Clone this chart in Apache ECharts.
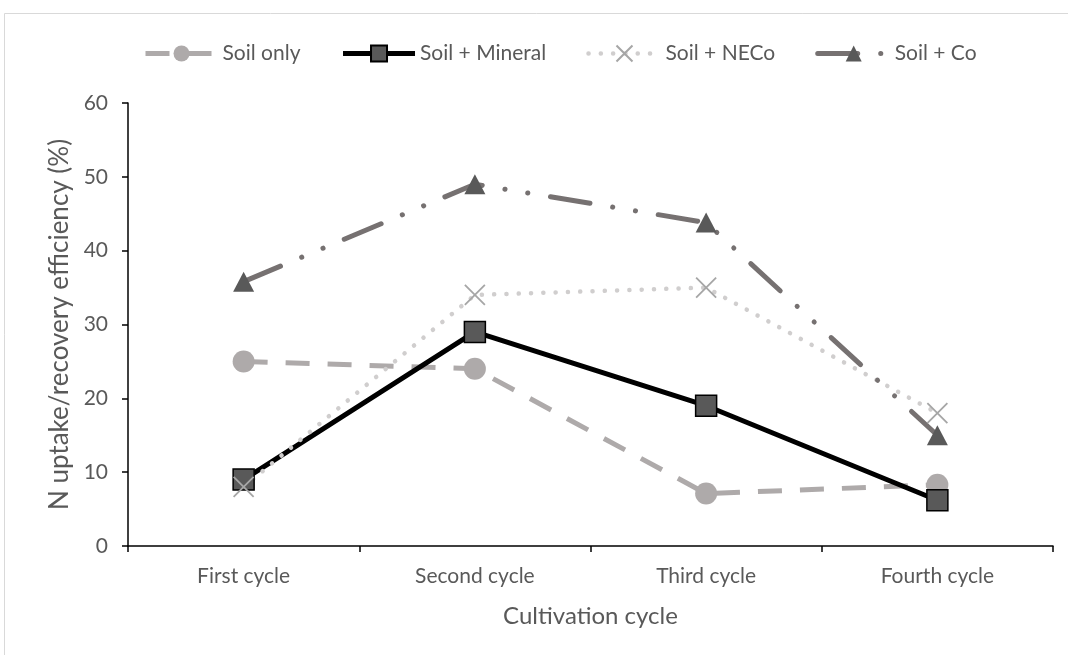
<!DOCTYPE html>
<html>
<head>
<meta charset="utf-8">
<script src="https://cdn.jsdelivr.net/npm/echarts@6/dist/echarts.min.js"></script>
<style>
html,body{margin:0;padding:0;background:#fff;}
#chart{width:1068px;height:655px;}
</style>
</head>
<body>
<div id="chart"></div>
<script>
const categories = ['First cycle', 'Second cycle', 'Third cycle', 'Fourth cycle'];
const soilOnly = [25, 24, 7.1, 8.3];
const soilMineral = [9, 29, 19, 6.2];
const soilNECo = [8, 34, 35, 18];
const soilCo = [35.8, 49, 43.8, 15];
const yTicks = [0, 10, 20, 30, 40, 50, 60];
const seriesNames = ['Soil only', 'Soil + Mineral', 'Soil + NECo', 'Soil + Co'];

const FONT = 'Lato';
const TXT = '#595959';
const crossPath = 'path://M0,0L10,10M10,0L0,10';

const styles = [
  {line: {color: '#AEAAAA', width: 5, type: [24, 18], cap: 'butt'}},
  {line: {color: '#000', width: 5}},
  {line: {color: '#D0CECE', width: 4.5, type: [0.1, 12.2], cap: 'round'}},
  {line: {color: '#767171', width: 5, type: [40, 23, 0.1, 23, 0.1, 23], cap: 'round'}}
];

const chart = echarts.init(document.getElementById('chart'), null, {renderer: 'canvas'});
chart.setOption({
  animation: false,
  backgroundColor: '#fff',
  textStyle: {fontFamily: FONT, color: TXT},
  graphic: [{
    type: 'rect', silent: true, z: -1,
    shape: {x: 4.5, y: 13.5, width: 1100, height: 700},
    style: {fill: 'none', stroke: '#D9D9D9', lineWidth: 1}
  }],
  legend: {
    top: 38, left: 138,
    itemWidth: 72, itemHeight: 20, itemGap: 40,
    textStyle: {fontFamily: FONT, fontSize: 21, color: TXT},
    data: seriesNames.map((n, i) => ({name: n, lineStyle: {width: styles[i].line.width}}))
  },
  grid: {left: 128, right: 15, top: 103, bottom: 109, containLabel: false},
  xAxis: {
    type: 'category', data: categories, boundaryGap: true,
    name: 'Cultivation cycle', nameLocation: 'middle', nameGap: 58,
    nameTextStyle: {fontFamily: FONT, fontSize: 24, color: TXT},
    axisLine: {lineStyle: {color: '#000', width: 1.5}},
    axisTick: {show: true, length: 6, lineStyle: {color: '#000', width: 1.5}},
    axisLabel: {fontFamily: FONT, fontSize: 21, color: TXT, margin: 20},
    splitLine: {show: false}
  },
  yAxis: {
    type: 'value', min: yTicks[0], max: yTicks[yTicks.length - 1], interval: 10,
    name: 'N uptake/recovery efficiency (%)', nameLocation: 'middle', nameGap: 53,
    nameTextStyle: {fontFamily: FONT, fontSize: 26, color: TXT},
    axisLine: {show: true, lineStyle: {color: '#000', width: 1.5}},
    axisTick: {show: true, length: 6, lineStyle: {color: '#000', width: 1.5}},
    axisLabel: {fontFamily: FONT, fontSize: 21, color: TXT, margin: 20},
    splitLine: {show: false}
  },
  series: [
    {
      name: seriesNames[0], type: 'line', data: soilOnly,
      symbol: 'circle', symbolSize: 22,
      itemStyle: {color: '#AEAAAA'},
      lineStyle: styles[0].line
    },
    {
      name: seriesNames[1], type: 'line', data: soilMineral,
      symbol: 'rect', symbolSize: 21,
      itemStyle: {color: '#595959', borderColor: '#000', borderWidth: 1.5},
      lineStyle: styles[1].line
    },
    {
      name: seriesNames[2], type: 'line', data: soilNECo,
      symbol: crossPath, symbolSize: 20, symbolKeepAspect: true,
      itemStyle: {color: 'none', borderColor: '#A6A6A6', borderWidth: 1.8},
      lineStyle: styles[2].line
    },
    {
      name: seriesNames[3], type: 'line', data: soilCo,
      symbol: 'triangle', symbolSize: [21, 20],
      itemStyle: {color: '#595959'},
      lineStyle: styles[3].line
    }
  ]
});
</script>
</body>
</html>
